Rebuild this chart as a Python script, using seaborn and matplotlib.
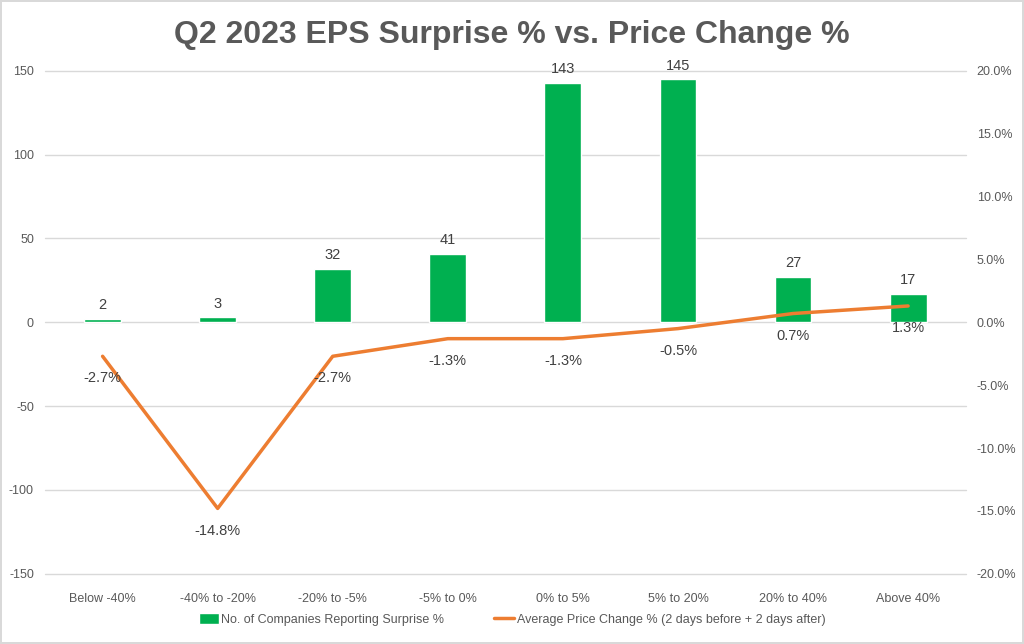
import matplotlib
matplotlib.use("Agg")
import matplotlib.pyplot as plt
import matplotlib.ticker as mticker
import seaborn as sns
import pandas as pd

# chart data
categories = ["Below -40%", "-40% to -20%", "-20% to -5%", "-5% to 0%",
              "0% to 5%", "5% to 20%", "20% to 40%", "Above 40%"]
company_counts = [2, 3, 32, 41, 143, 145, 27, 17]
price_change = [-2.7, -14.8, -2.7, -1.3, -1.3, -0.5, 0.7, 1.3]

bar_label = "No. of Companies Reporting Surprise %"
line_label = "Average Price Change % (2 days before + 2 days after)"

df = pd.DataFrame({"Range": categories, "Count": company_counts, "Change": price_change})

sns.set_theme(style="white")
plt.rcParams['font.family'] = ['Liberation Sans Narrow', 'Liberation Sans', 'DejaVu Sans']
plt.rcParams['axes.unicode_minus'] = False

green = "#00B050"
orange = "#ED7D31"
grey = "#595959"

fig = plt.figure(figsize=(10.24, 6.44), dpi=100)
fig.patch.set_edgecolor("#D9D9D9")
fig.patch.set_linewidth(1.5)
ax = fig.add_axes([0.044, 0.109, 0.899, 0.781])

sns.barplot(data=df, x="Range", y="Count", color=green, width=0.32,
            saturation=1, ax=ax, label=bar_label, zorder=3)
if ax.get_legend() is not None:
    ax.get_legend().remove()
ax.set_ylim(-150, 150)
ax.set_yticks(range(-150, 151, 50))
ax.set_xlim(-0.5, len(categories) - 0.5)
ax.yaxis.grid(True, color="#D9D9D9", linewidth=1, zorder=0)
ax.set_axisbelow(True)
for s in ax.spines.values():
    s.set_visible(False)
ax.set_xlabel("")
ax.set_ylabel("")
ax.tick_params(axis="both", length=0, labelsize=9, colors=grey, pad=8)
ax.tick_params(axis="x", pad=14)
for gl in ax.get_ygridlines():
    gl.set_clip_on(False)

for i, v in enumerate(company_counts):
    ax.text(i, v + 4, str(v), ha="center", va="bottom", fontsize=10.5, color="#404040")

ax2 = ax.twinx()
sns.lineplot(x=list(range(len(categories))), y=price_change, color=orange,
             linewidth=2.5, ax=ax2, label=line_label, legend=False)
ax2.set_ylim(-20, 20)
ax2.set_yticks(range(-20, 21, 5))
ax2.yaxis.set_major_formatter(mticker.FuncFormatter(lambda v, p: f"{v:.1f}%"))
ax2.tick_params(axis="y", length=0, labelsize=9, colors=grey, pad=8)
for s in ax2.spines.values():
    s.set_visible(False)
ax2.set_ylabel("")

for i, v in enumerate(price_change):
    ax2.text(i, v - 1.2, f"{v:.1f}%", ha="center", va="top", fontsize=10.5, color="#404040")

fig.text(0.5, 0.945, "Q2 2023 EPS Surprise % vs. Price Change %", ha="center", va="center",
         fontsize=23, fontweight="bold", color=grey)

h1, l1 = ax.get_legend_handles_labels()
h2, l2 = ax2.get_legend_handles_labels()
leg = fig.legend(h1 + h2, l1 + l2, loc="center", bbox_to_anchor=(0.5, 0.038), ncol=2,
                 frameon=False, fontsize=9, handlelength=1.6, handleheight=0.9,
                 columnspacing=4, handletextpad=0.2)
for t in leg.get_texts():
    t.set_color(grey)

fig.savefig("out.png", dpi=100)
